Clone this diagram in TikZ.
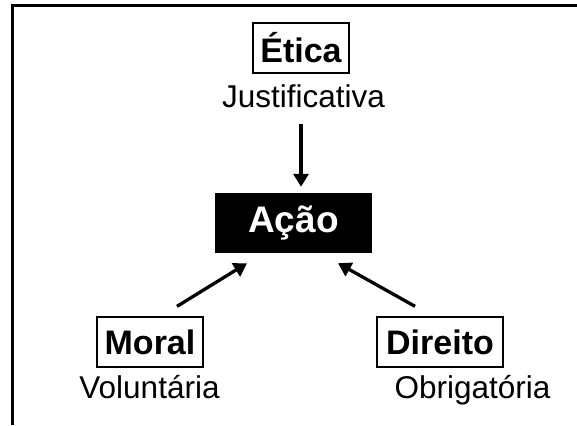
\documentclass[tikz,border=0pt]{standalone}
\usepackage{fontspec}
\setmainfont{Liberation Sans}
\usetikzlibrary{arrows.meta, positioning, calc}

\tikzset{
  caixa/.style={draw, line width=1.3pt, inner sep=0pt, minimum height=50pt, font=\fontsize{34}{36}\selectfont\bfseries},
  rotulo/.style={inner sep=0pt, anchor=base, font=\fontsize{31.5}{34}\selectfont},
  seta/.style={line width=3.3pt, -{Triangle[length=13pt,width=15pt]}}
}

\begin{document}
\begin{tikzpicture}[x=1pt, y=-1pt]
\useasboundingbox (0,0) rectangle (577,425);
% moldura (so topo e lado esquerdo aparecem)
\draw[line width=3.5pt, line join=miter] (12.5,425) -- (12.5,5.5) -- (577,5.5);

\node[caixa, minimum width=96pt] (etica) at (301,48) {Ética};
\node[rotulo] (justif) at (303.5,107) {Justificativa};

\node[fill=black, text=white, inner sep=0pt, minimum width=157pt, minimum height=60pt, font=\fontsize{37}{40}\selectfont\bfseries] (acao) at (293.5,223) {Ação};

\node[caixa, minimum width=106pt] (moral) at (150,342) {Moral};
\node[rotulo] (volunt) at (149.5,398) {Voluntária};
\node[caixa, minimum width=126pt] (direito) at (440,342) {Direito};
\node[rotulo] (obrig) at (472.5,398) {Obrigatória};

\draw[seta] ([yshift=-16pt]justif.south -| etica.center) -- ([yshift=6pt]etica.center |- acao.north);
\draw[seta] ([xshift=27pt,yshift=10pt]moral.north) -- ([xshift=-46.5pt,yshift=-10pt]acao.south);
\draw[seta] ([xshift=-25pt,yshift=10pt]direito.north) -- ([xshift=44.5pt,yshift=-10pt]acao.south);
\end{tikzpicture}
\end{document}
